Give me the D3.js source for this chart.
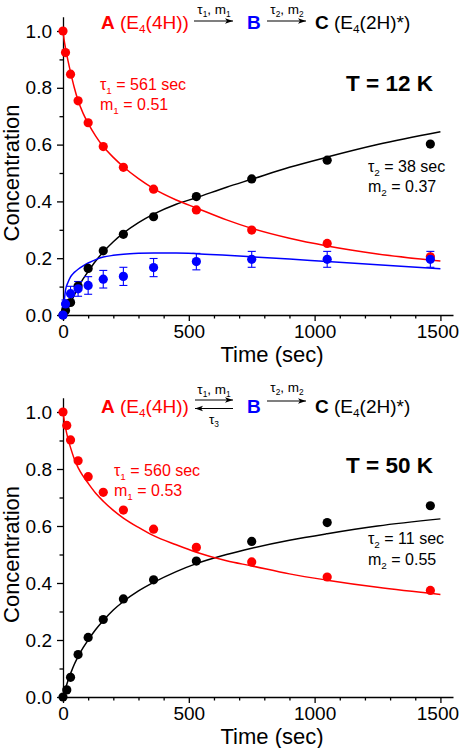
<!DOCTYPE html>
<html><head><meta charset="utf-8">
<script src="https://cdn.jsdelivr.net/npm/d3@7"></script>
<style>
html,body{margin:0;padding:0;background:#fff;}
svg text{font-family:"Liberation Sans",Arial,Helvetica,sans-serif;}
</style></head>
<body>
<svg id="chart" width="462" height="748"></svg>
<script>
// ---------- DATA ----------
const xTicks = [0, 500, 1000, 1500];
const yTicks = [0.0, 0.2, 0.4, 0.6, 0.8, 1.0];

// Panel 1: T = 12 K
const times12 = [0, 10, 30, 60, 100, 160, 240, 360, 530, 750, 1050, 1460];
const A12 = [1.0, 0.924, 0.848, 0.754, 0.677, 0.593, 0.520, 0.443, 0.370, 0.299, 0.252, 0.205];
const B12 = [0.0, 0.039, 0.075, 0.092, 0.104, 0.126, 0.136, 0.167, 0.188, 0.196, 0.196, 0.196];
const B12err = [0.0, 0.014, 0.026, 0.026, 0.031, 0.031, 0.032, 0.032, 0.029, 0.028, 0.028, 0.028];
const C12 = [0.0, 0.016, 0.044, 0.102, 0.164, 0.226, 0.284, 0.346, 0.417, 0.479, 0.545, 0.602];

const fitT = [0, 5, 10, 20, 30, 45, 60, 80, 100, 130, 160, 200, 240, 300, 360, 450, 530, 650, 750, 900, 1050, 1250, 1500];
const fitA12 = [1.0, 0.965, 0.94, 0.895, 0.855, 0.80, 0.755, 0.71, 0.675, 0.63, 0.593, 0.555, 0.522, 0.48, 0.445, 0.405, 0.377, 0.335, 0.305, 0.27, 0.243, 0.215, 0.19];
const fitB12 = [0.0, 0.05, 0.088, 0.115, 0.134, 0.15, 0.161, 0.173, 0.183, 0.195, 0.204, 0.21, 0.214, 0.217, 0.218, 0.218, 0.216, 0.21, 0.205, 0.197, 0.188, 0.177, 0.163];
const fitC12 = [0.0, 0.004, 0.01, 0.025, 0.042, 0.07, 0.098, 0.127, 0.153, 0.19, 0.222, 0.258, 0.288, 0.325, 0.355, 0.39, 0.413, 0.45, 0.478, 0.52, 0.556, 0.6, 0.645];

// Panel 2: T = 50 K
const times50 = [0, 15, 30, 60, 100, 160, 240, 360, 530, 750, 1050, 1460];
const A50 = [1.0, 0.953, 0.902, 0.829, 0.773, 0.718, 0.656, 0.589, 0.525, 0.474, 0.421, 0.374];
const C50 = [0.0, 0.025, 0.069, 0.149, 0.209, 0.272, 0.344, 0.411, 0.477, 0.546, 0.612, 0.671];
const fitA50 = [1.0, 0.97, 0.945, 0.905, 0.875, 0.835, 0.805, 0.775, 0.75, 0.715, 0.687, 0.655, 0.628, 0.595, 0.566, 0.534, 0.508, 0.478, 0.46, 0.432, 0.41, 0.385, 0.36];
const fitC50 = [0.0, 0.015, 0.03, 0.058, 0.082, 0.115, 0.142, 0.173, 0.2, 0.237, 0.268, 0.305, 0.335, 0.372, 0.402, 0.44, 0.468, 0.5, 0.522, 0.55, 0.573, 0.6, 0.625];

const RED = "#ff0000", BLUE = "#0000ff", BLACK = "#000000";

// ---------- DRAW ----------
const svg = d3.select("#chart");

function richText(g, x, y, segs, size, anchor) {
  const t = g.append("text").attr("x", x).attr("y", y).attr("font-size", size)
    .attr("text-anchor", anchor || "start");
  segs.forEach(s => {
    const ts = t.append("tspan").text(s.t).attr("fill", s.fill || BLACK);
    if (s.bold) ts.attr("font-weight", "bold");
    if (s.sub) ts.attr("font-size", size * 0.62).attr("dy", size * 0.22);
    if (s.back) ts.attr("dy", -size * 0.22);
  });
  return t;
}

function arrow(g, x1, x2, y, dir) {
  g.append("line").attr("x1", x1).attr("x2", x2).attr("y1", y).attr("y2", y)
    .attr("stroke", BLACK).attr("stroke-width", 1.2);
  const tip = dir > 0 ? x2 : x1;
  g.append("path")
    .attr("d", `M${tip},${y} L${tip - dir * 8},${y - 2.8} L${tip - dir * 6},${y} L${tip - dir * 8},${y + 2.8} Z`)
    .attr("fill", BLACK);
}

function drawPanel(cfg) {
  const x = d3.scaleLinear().domain([0, 1550]).range([63, 453]);
  const y = d3.scaleLinear().domain([0, 1.05]).range([cfg.y0, cfg.y0 - 1.05 * cfg.h]);
  const g = svg.append("g");

  // axes
  g.append("g").attr("transform", `translate(0,${cfg.y0})`)
    .call(d3.axisBottom(x).tickValues(xTicks).tickSize(6).tickSizeOuter(0).tickFormat(d3.format("d")).tickPadding(4))
    .selectAll(".tick text").attr("dx", d => d === 1500 ? -3 : 0);
  g.append("g").attr("transform", `translate(0,${cfg.y0})`)
    .call(d3.axisBottom(x).tickValues(d3.range(100, 1550, 100).filter(v => v % 500 !== 0)).tickSize(3.5).tickSizeOuter(0).tickFormat(""))
    .select(".domain").remove();
  g.append("g").attr("transform", `translate(63,0)`)
    .call(d3.axisLeft(y).tickValues(yTicks).tickSize(6).tickSizeOuter(0).tickFormat(d3.format(".1f")).tickPadding(5));
  g.append("g").attr("transform", `translate(63,0)`)
    .call(d3.axisLeft(y).tickValues([0.1, 0.3, 0.5, 0.7, 0.9]).tickSize(3.5).tickSizeOuter(0).tickFormat(""))
    .select(".domain").remove();
  g.selectAll(".domain, .tick line").attr("stroke", BLACK).attr("stroke-width", 1.3);
  g.selectAll(".tick text").attr("font-size", 19).attr("fill", BLACK)
    .attr("font-family", '"Liberation Sans",Arial,sans-serif');

  g.append("text").attr("transform", `translate(19,${cfg.y0 - 0.5 * cfg.h}) rotate(-90)`)
    .attr("text-anchor", "middle").attr("font-size", 22).text("Concentration");
  g.append("text").attr("x", 272).attr("y", cfg.y0 + 47).attr("text-anchor", "middle")
    .attr("font-size", 22).text("Time (sec)");

  // fit curves
  const line = d3.line().x(d => x(d[0])).y(d => y(d[1])).curve(d3.curveMonotoneX);
  cfg.fits.forEach(f => {
    g.append("path").datum(fitT.map((t, i) => [t, f.v[i]]))
      .attr("d", line).attr("fill", "none").attr("stroke", f.c).attr("stroke-width", 1.5);
  });

  // error bars
  if (cfg.err) {
    const e = cfg.err;
    const eg = g.append("g").attr("stroke", e.c).attr("stroke-width", 1.1);
    e.t.forEach((t, i) => {
      if (e.e[i] <= 0) return;
      const cx = x(t), lo = y(e.v[i] - e.e[i]), hi = y(e.v[i] + e.e[i]);
      eg.append("line").attr("x1", cx).attr("x2", cx).attr("y1", lo).attr("y2", hi);
      eg.append("line").attr("x1", cx - 4).attr("x2", cx + 4).attr("y1", lo).attr("y2", lo);
      eg.append("line").attr("x1", cx - 4).attr("x2", cx + 4).attr("y1", hi).attr("y2", hi);
    });
  }

  // points
  cfg.pts.forEach(p => {
    g.append("g").selectAll("circle").data(p.t.map((t, i) => [t, p.v[i]])).join("circle")
      .attr("cx", d => x(d[0])).attr("cy", d => y(d[1])).attr("r", 4.6).attr("fill", p.c);
  });
  return {g, x, y};
}

// ---------- Panel 1 ----------
const p1 = drawPanel({
  y0: 315, h: 284,
  fits: [{v: fitC12, c: BLACK}, {v: fitB12, c: BLUE}, {v: fitA12, c: RED}],
  err: {t: times12, v: B12, e: B12err, c: BLUE},
  pts: [{t: times12, v: C12, c: BLACK}, {t: times12, v: A12, c: RED}, {t: times12, v: B12, c: BLUE}]
});
{
  const g = p1.g;
  richText(g, 101, 29, [{t: "A", bold: true, fill: RED}, {t: " (E", fill: RED}, {t: "4", sub: true, fill: RED}, {t: "(4H))", fill: RED, back: true}], 19);
  arrow(g, 194, 233, 21, 1);
  richText(g, 214, 14, [{t: "τ"}, {t: "1", sub: true}, {t: ", m", back: true}, {t: "1", sub: true}], 13.5, "middle");
  richText(g, 247, 29, [{t: "B", bold: true, fill: BLUE}], 19);
  arrow(g, 267, 306, 21, 1);
  richText(g, 287, 14, [{t: "τ"}, {t: "2", sub: true}, {t: ", m", back: true}, {t: "2", sub: true}], 13.5, "middle");
  richText(g, 315, 29, [{t: "C", bold: true}, {t: " (E"}, {t: "4", sub: true}, {t: "(2H)*)", back: true}], 19);
  g.append("text").attr("x", 433).attr("y", 91).attr("text-anchor", "end").attr("font-size", 22.5)
    .attr("font-weight", "bold").text("T = 12 K");
  richText(g, 100, 90, [{t: "τ", fill: RED}, {t: "1", sub: true, fill: RED}, {t: " = 561 sec", back: true, fill: RED}], 16);
  richText(g, 100, 110, [{t: "m", fill: RED}, {t: "1", sub: true, fill: RED}, {t: " = 0.51", back: true, fill: RED}], 16);
  richText(g, 368, 172, [{t: "τ"}, {t: "2", sub: true}, {t: " = 38 sec", back: true}], 16);
  richText(g, 368, 192, [{t: "m"}, {t: "2", sub: true}, {t: " = 0.37", back: true}], 16);
}

// ---------- Panel 2 ----------
const p2 = drawPanel({
  y0: 697, h: 285,
  fits: [{v: fitC50, c: BLACK}, {v: fitA50, c: RED}],
  err: null,
  pts: [{t: times50, v: C50, c: BLACK}, {t: times50, v: A50, c: RED}]
});
{
  const g = p2.g;
  richText(g, 101, 413, [{t: "A", bold: true, fill: RED}, {t: " (E", fill: RED}, {t: "4", sub: true, fill: RED}, {t: "(4H))", fill: RED, back: true}], 19);
  arrow(g, 195, 233, 400, 1);
  arrow(g, 195, 233, 408.5, -1);
  richText(g, 214, 394, [{t: "τ"}, {t: "1", sub: true}, {t: ", m", back: true}, {t: "1", sub: true}], 13.5, "middle");
  richText(g, 214, 424, [{t: "τ"}, {t: "3", sub: true}], 13.5, "middle");
  richText(g, 247, 413, [{t: "B", bold: true, fill: BLUE}], 19);
  arrow(g, 267, 306, 401, 1);
  richText(g, 287, 392, [{t: "τ"}, {t: "2", sub: true}, {t: ", m", back: true}, {t: "2", sub: true}], 13.5, "middle");
  richText(g, 315, 413, [{t: "C", bold: true}, {t: " (E"}, {t: "4", sub: true}, {t: "(2H)*)", back: true}], 19);
  g.append("text").attr("x", 433).attr("y", 473).attr("text-anchor", "end").attr("font-size", 22.5)
    .attr("font-weight", "bold").text("T = 50 K");
  richText(g, 114, 476, [{t: "τ", fill: RED}, {t: "1", sub: true, fill: RED}, {t: " = 560 sec", back: true, fill: RED}], 16);
  richText(g, 114, 496, [{t: "m", fill: RED}, {t: "1", sub: true, fill: RED}, {t: " = 0.53", back: true, fill: RED}], 16);
  richText(g, 368, 544, [{t: "τ"}, {t: "2", sub: true}, {t: " = 11 sec", back: true}], 16);
  richText(g, 368, 565, [{t: "m"}, {t: "2", sub: true}, {t: " = 0.55", back: true}], 16);
}
</script>
</body></html>
